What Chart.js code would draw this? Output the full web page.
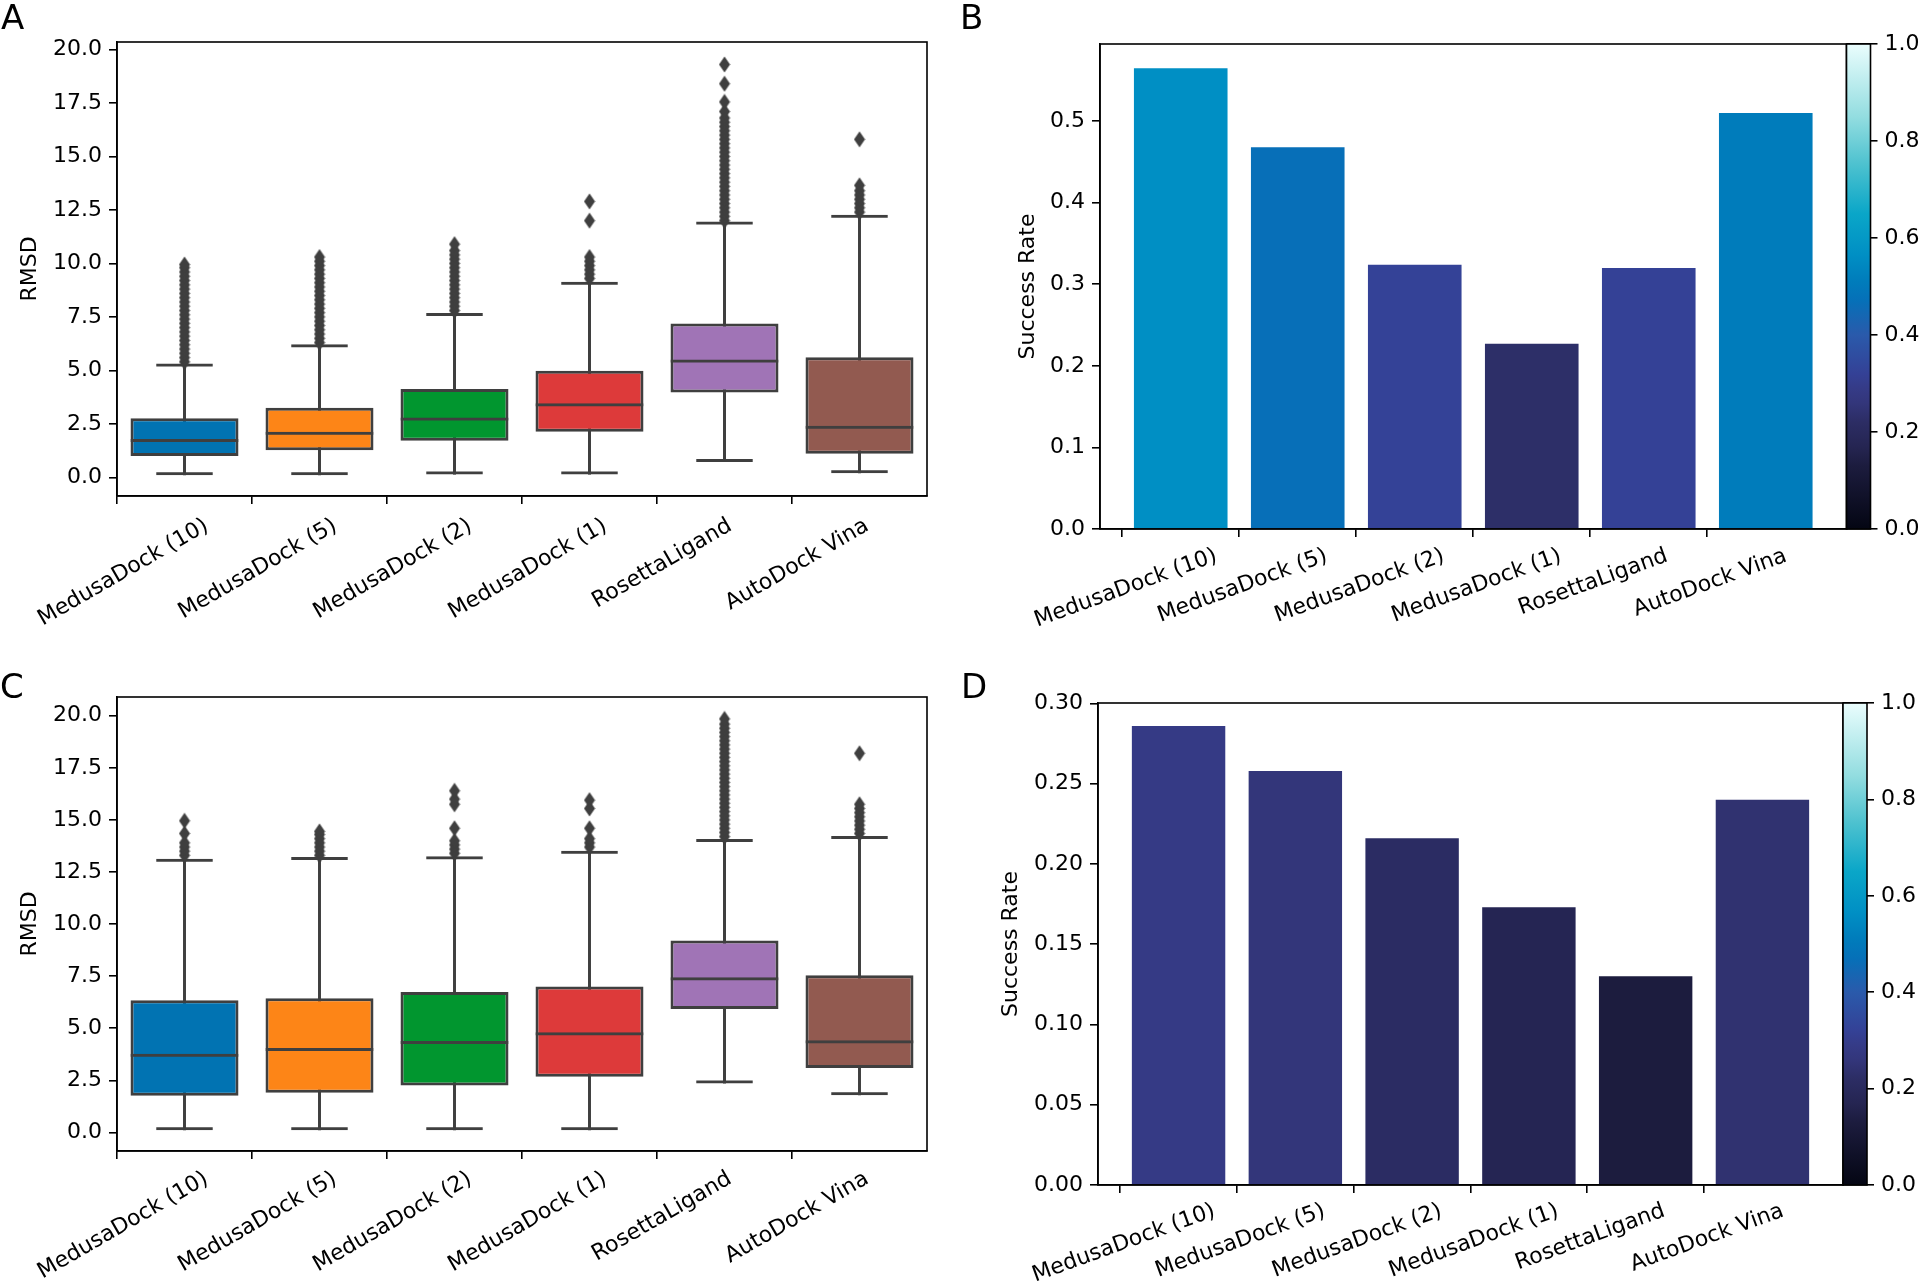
<!DOCTYPE html>
<html>
<head>
<meta charset="utf-8">
<script src="https://cdn.jsdelivr.net/npm/chart.js@4.4.0/dist/chart.umd.min.js"></script>
<style>
  html, body { margin: 0; padding: 0; background: #fff; }
  body { width: 1920px; height: 1284px; position: relative; overflow: hidden; font-family: "DejaVu Sans"; }
  canvas { position: absolute; }
  .letter { position: absolute; font-size: 34px; line-height: 34px; color: #000; }
</style>
</head>
<body>
<canvas id="chartA" width="960" height="640" style="left:0;top:0"></canvas>
<canvas id="chartB" width="960" height="640" style="left:960px;top:0"></canvas>
<canvas id="chartC" width="960" height="644" style="left:0;top:640px"></canvas>
<canvas id="chartD" width="960" height="644" style="left:960px;top:640px"></canvas>
<div class="letter" style="left:1px;top:0">A</div>
<div class="letter" style="left:960px;top:0">B</div>
<div class="letter" style="left:0;top:669px">C</div>
<div class="letter" style="left:961px;top:669px">D</div>
<script>
// categories shared by every panel
var categories = ['MedusaDock (10)', 'MedusaDock (5)', 'MedusaDock (2)', 'MedusaDock (1)', 'RosettaLigand', 'AutoDock Vina'];

// panel A: RMSD box plots
var whiskerLowA  = [0.10, 0.10, 0.13, 0.13, 0.72, 0.19];
var q1A          = [1.00, 1.27, 1.71, 2.13, 3.97, 1.10];
var medianA      = [1.80, 2.13, 2.80, 3.46, 5.51, 2.41];
var q3A          = [2.76, 3.25, 4.13, 4.98, 7.19, 5.61];
var whiskerHighA = [5.32, 6.22, 7.68, 9.14, 11.96, 12.27];
var outliersA = [
  [5.4, 5.6, 5.8, 6.0, 6.2, 6.4, 6.6, 6.8, 7.0, 7.2, 7.4, 7.6, 7.8, 8.0, 8.2, 8.4, 8.6, 8.8, 9.0, 9.2, 9.4, 9.6, 9.8, 9.95],
  [6.3, 6.5, 6.7, 6.9, 7.1, 7.3, 7.5, 7.7, 7.9, 8.1, 8.3, 8.5, 8.7, 8.9, 9.1, 9.3, 9.5, 9.7, 9.9, 10.1, 10.3],
  [7.8, 8.0, 8.2, 8.4, 8.6, 8.8, 9.0, 9.2, 9.4, 9.6, 9.8, 10.0, 10.2, 10.4, 10.6, 10.9],
  [9.3, 9.5, 9.7, 9.9, 10.1, 10.3, 12.0, 12.9],
  [12.0, 12.2, 12.4, 12.6, 12.8, 13.0, 13.2, 13.4, 13.6, 13.8, 14.0, 14.2, 14.4, 14.6, 14.8, 15.0, 15.2, 15.4, 15.6, 15.8, 16.0, 16.2, 16.4, 16.6, 16.8, 17.1, 17.55, 18.4, 19.3],
  [12.4, 12.6, 12.8, 13.0, 13.2, 13.4, 13.65, 15.8]
];

// panel C: RMSD box plots
var whiskerLowC  = [0.10, 0.10, 0.10, 0.10, 2.35, 1.78];
var q1C          = [1.76, 1.91, 2.25, 2.67, 5.92, 3.09];
var medianC      = [3.78, 4.05, 4.39, 4.81, 7.45, 4.43];
var q3C          = [6.34, 6.44, 6.74, 7.01, 9.21, 7.55];
var whiskerHighC = [13.14, 13.22, 13.26, 13.52, 14.08, 14.23];
var outliersC = [
  [13.3, 13.5, 13.7, 13.9, 14.35, 14.96],
  [13.3, 13.5, 13.7, 13.9, 14.1, 14.3, 14.45],
  [13.4, 13.6, 13.8, 14.0, 14.6, 15.75, 16.0, 16.4],
  [13.7, 13.9, 14.1, 14.6, 15.55, 15.95],
  [14.2, 14.4, 14.6, 14.8, 15.0, 15.2, 15.4, 15.6, 15.8, 16.0, 16.2, 16.4, 16.6, 16.8, 17.0, 17.2, 17.4, 17.6, 17.8, 18.0, 18.2, 18.4, 18.6, 18.8, 19.0, 19.2, 19.4, 19.6, 19.85],
  [14.35, 14.55, 14.75, 14.95, 15.15, 15.35, 15.55, 15.75, 18.2]
];

// panels B and D: success rates
var successRateB = [0.565, 0.468, 0.324, 0.227, 0.320, 0.510];
var successRateD = [0.286, 0.258, 0.216, 0.173, 0.130, 0.240];

// tick labels
var rmsdTicks = [0, 2.5, 5, 7.5, 10, 12.5, 15, 17.5, 20];
var successTicksB = [0, 0.1, 0.2, 0.3, 0.4, 0.5];
var successTicksD = [0, 0.05, 0.10, 0.15, 0.20, 0.25, 0.30];
var colorbarTicks = [0, 0.2, 0.4, 0.6, 0.8, 1.0];

// styles
var FONT = 'DejaVu Sans';
var FSIZE = 22;
var boxColors = ['#0173b2', '#fd8517', '#01962f', '#dd3a3a', '#a074b6', '#925a50'];
var boxEdge = '#3f3f3f';
var iceStops = [
  [0.00, '#040613'], [0.13, '#1c1c3e'], [0.17, '#252552'], [0.22, '#2c2d64'],
  [0.26, '#33367b'], [0.29, '#353b87'], [0.32, '#344196'], [0.40, '#2a5aab'],
  [0.47, '#0670b8'], [0.51, '#007cbb'], [0.565, '#008fc4'], [0.65, '#0aa6c8'],
  [0.75, '#4cc1cf'], [0.85, '#93dde0'], [1.00, '#eafdfd']
];

Chart.defaults.font.family = FONT;
Chart.defaults.color = '#000';

function hexToRgb(h) {
  return [parseInt(h.substr(1, 2), 16), parseInt(h.substr(3, 2), 16), parseInt(h.substr(5, 2), 16)];
}
function iceColor(v) {
  for (var k = 1; k < iceStops.length; k++) {
    if (v <= iceStops[k][0]) {
      var a = iceStops[k - 1], b = iceStops[k];
      var t = (v - a[0]) / (b[0] - a[0]);
      var ca = hexToRgb(a[1]), cb = hexToRgb(b[1]);
      return 'rgb(' + ca.map(function (c, j) { return Math.round(c + (cb[j] - c) * t); }).join(',') + ')';
    }
  }
  return iceStops[iceStops.length - 1][1];
}

// thin diamond marker like matplotlib 'd'
function diamondMarker() {
  var c = document.createElement('canvas');
  c.width = 12; c.height = 17;
  var g = c.getContext('2d');
  g.fillStyle = boxEdge;
  g.beginPath();
  g.moveTo(6, 0.5); g.lineTo(11.5, 8.5); g.lineTo(6, 16.5); g.lineTo(0.5, 8.5);
  g.closePath(); g.fill();
  return c;
}
var diamond = diamondMarker();

var framePlugin = {
  id: 'frame',
  afterDraw: function (chart) {
    var a = chart.chartArea, ctx = chart.ctx;
    ctx.save();
    ctx.strokeStyle = '#000';
    ctx.lineWidth = 1.6;
    ctx.strokeRect(a.left, a.top, a.right - a.left, a.bottom - a.top);
    ctx.restore();
  }
};

var colorbarPlugin = {
  id: 'colorbar',
  afterDraw: function (chart) {
    var a = chart.chartArea, s = chart.scales.y2, ctx = chart.ctx;
    var yTop = s.getPixelForValue(1), yBot = s.getPixelForValue(0);
    var grad = ctx.createLinearGradient(0, yBot, 0, yTop);
    iceStops.forEach(function (st) { grad.addColorStop(st[0], st[1]); });
    ctx.save();
    ctx.fillStyle = grad;
    ctx.fillRect(a.right, yTop, 24, yBot - yTop);
    ctx.strokeStyle = '#000';
    ctx.lineWidth = 1.6;
    ctx.strokeRect(a.right, yTop, 24, yBot - yTop);
    ctx.restore();
  }
};

// rotated labels centred on the tick at i - 0.5
function centerLabels(rot) {
  return function (s) {
    var ctx = s.ctx;
    ctx.save();
    ctx.font = FSIZE + 'px "' + FONT + '"';
    var ppu = s.width / (s.max - s.min);
    s.ticks.forEach(function (t, i) {
      var w = ctx.measureText(categories[i]).width;
      t.value = (i - 0.5) + (w / 2) * Math.cos(rot * Math.PI / 180) / ppu;
    });
    ctx.restore();
  };
}

function noSidePadding(s) {
  s.paddingLeft = 0;
  s.paddingRight = 0;
}

function xScales(min, max, rot, pad, labelHeight) {
  return {
    x: {
      type: 'linear', min: min, max: max, bounds: 'data', offset: false, weight: 0,
      afterBuildTicks: function (s) { s.ticks = categories.map(function (c, i) { return { value: i - 0.5 }; }); },
      afterFit: function (s) { s.height = 10; noSidePadding(s); },
      ticks: { display: false },
      grid: { display: true, drawOnChartArea: false, drawTicks: true, tickLength: 8, color: '#000', lineWidth: 1.6, offset: false },
      border: { display: true, color: '#000', width: 1.6 }
    },
    x2: {
      type: 'linear', position: 'bottom', min: min, max: max, bounds: 'data', offset: false, weight: 1,
      afterBuildTicks: function (s) { s.ticks = categories.map(function (c, i) { return { value: i - 0.5 }; }); },
      afterUpdate: centerLabels(rot),
      afterFit: function (s) { s.height = labelHeight; noSidePadding(s); },
      ticks: {
        autoSkip: false, minRotation: rot, maxRotation: rot, padding: pad,
        font: { family: FONT, size: FSIZE }, color: '#000',
        callback: function (v, i) { return categories[i]; }
      },
      grid: { display: false, drawTicks: false },
      border: { display: false }
    }
  };
}

function yScale(min, max, tickList, digits, width, title, titlePad) {
  return {
    type: 'linear', position: 'left', min: min, max: max, bounds: 'data',
    afterBuildTicks: function (s) { s.ticks = tickList.map(function (v) { return { value: v }; }); },
    afterFit: function (s) { s.width = width; },
    ticks: { font: { family: FONT, size: FSIZE }, color: '#000', padding: 7,
      callback: function (v) { return Number(v).toFixed(digits); } },
    grid: { drawOnChartArea: false, drawTicks: true, tickLength: 8, color: '#000', lineWidth: 1.6 },
    border: { display: true, color: '#000', width: 1.6 },
    title: { display: true, text: title, font: { family: FONT, size: FSIZE }, color: '#000', padding: { top: titlePad, bottom: 0 } }
  };
}

function pts(fn) {
  return categories.map(function (c, i) { return { x: i, y: fn(i) }; });
}

function boxChart(id, lo, q1, med, q3, hi, outliers, yMin, yMax, layoutTop, labelPad, labelHeight) {
  var fliers = [];
  outliers.forEach(function (list, i) {
    list.forEach(function (v) { fliers.push({ x: i, y: v }); });
  });
  var common = { type: 'bar', grouped: false, categoryPercentage: 1, borderSkipped: false, xAxisID: 'x', yAxisID: 'y' };
  var datasets = [
    Object.assign({}, common, { label: 'whisker', data: pts(function (i) { return [lo[i], hi[i]]; }),
      backgroundColor: boxEdge, borderWidth: 0, barPercentage: 0.022, order: 6 }),
    Object.assign({}, common, { label: 'lower cap', data: pts(function (i) { return [lo[i], q1[i]]; }),
      backgroundColor: 'rgba(0,0,0,0)', borderColor: boxEdge, borderWidth: { top: 0, left: 0, right: 0, bottom: 3 },
      barPercentage: 0.42, order: 5 }),
    Object.assign({}, common, { label: 'upper cap', data: pts(function (i) { return [q3[i], hi[i]]; }),
      backgroundColor: 'rgba(0,0,0,0)', borderColor: boxEdge, borderWidth: { top: 3, left: 0, right: 0, bottom: 0 },
      barPercentage: 0.42, order: 4 }),
    { type: 'scatter', label: 'outliers', data: fliers, pointStyle: diamond, pointRadius: 6,
      xAxisID: 'x', yAxisID: 'y', order: 3 },
    Object.assign({}, common, { label: 'box', data: pts(function (i) { return [q1[i], q3[i]]; }),
      backgroundColor: boxColors, borderColor: boxEdge, borderWidth: 3, barPercentage: 0.8, order: 2 }),
    Object.assign({}, common, { label: 'median', data: pts(function (i) { return [q1[i], med[i]]; }),
      backgroundColor: 'rgba(0,0,0,0)', borderColor: boxEdge, borderWidth: { top: 3, left: 0, right: 0, bottom: 0 },
      barPercentage: 0.8, order: 1 })
  ];
  var scales = xScales(-0.5, 5.5, 30, labelPad, labelHeight);
  scales.y = yScale(yMin, yMax, rmsdTicks, 1, 117, 'RMSD', 17);
  return new Chart(document.getElementById(id), {
    type: 'bar',
    data: { datasets: datasets },
    options: {
      responsive: false, animation: false, devicePixelRatio: 1, events: [],
      layout: { padding: { top: layoutTop, right: 33, left: 0, bottom: 0 } },
      plugins: { legend: { display: false }, tooltip: { enabled: false } },
      scales: scales
    },
    plugins: [framePlugin]
  });
}

function rateChart(id, values, yMax, tickList, digits, layoutTop, yWidth, titlePad, y2Width, labelPad, labelHeight) {
  var scales = xScales(-0.69, 5.69, 20, labelPad, labelHeight);
  scales.y = yScale(0, yMax, tickList, digits, yWidth, 'Success Rate', titlePad);
  scales.y2 = {
    type: 'linear', position: 'right', min: 0, max: 1, bounds: 'data',
    afterBuildTicks: function (s) { s.ticks = colorbarTicks.map(function (v) { return { value: v }; }); },
    afterFit: function (s) { s.width = y2Width; },
    ticks: { font: { family: FONT, size: FSIZE }, color: '#000', padding: 7,
      callback: function (v) { return Number(v).toFixed(1); } },
    grid: { drawOnChartArea: false, drawTicks: true, tickLength: 31, color: '#000', lineWidth: 1.6 },
    border: { display: false }
  };
  return new Chart(document.getElementById(id), {
    type: 'bar',
    data: {
      datasets: [{
        label: 'Success Rate',
        data: pts(function (i) { return values[i]; }),
        backgroundColor: values.map(iceColor),
        borderWidth: 0,
        barPercentage: 0.8, categoryPercentage: 1,
        xAxisID: 'x', yAxisID: 'y'
      }]
    },
    options: {
      responsive: false, animation: false, devicePixelRatio: 1, events: [],
      layout: { padding: { top: layoutTop, right: 0, left: 0, bottom: 0 } },
      plugins: { legend: { display: false }, tooltip: { enabled: false } },
      scales: scales
    },
    plugins: [framePlugin, colorbarPlugin]
  });
}

boxChart('chartA', whiskerLowA, q1A, medianA, q3A, whiskerHighA, outliersA, -0.87, 20.35, 42, 7, 134);
boxChart('chartC', whiskerLowC, q1C, medianC, q3C, whiskerHighC, outliersC, -0.89, 20.9, 57, 5, 123);
rateChart('chartB', successRateB, 0.5946, successTicksB, 1, 44, 140, 55, 73.5, 4, 101);
rateChart('chartD', successRateD, 0.3003, successTicksD, 2, 63, 138, 38, 77, 3, 89);
</script>
</body>
</html>
